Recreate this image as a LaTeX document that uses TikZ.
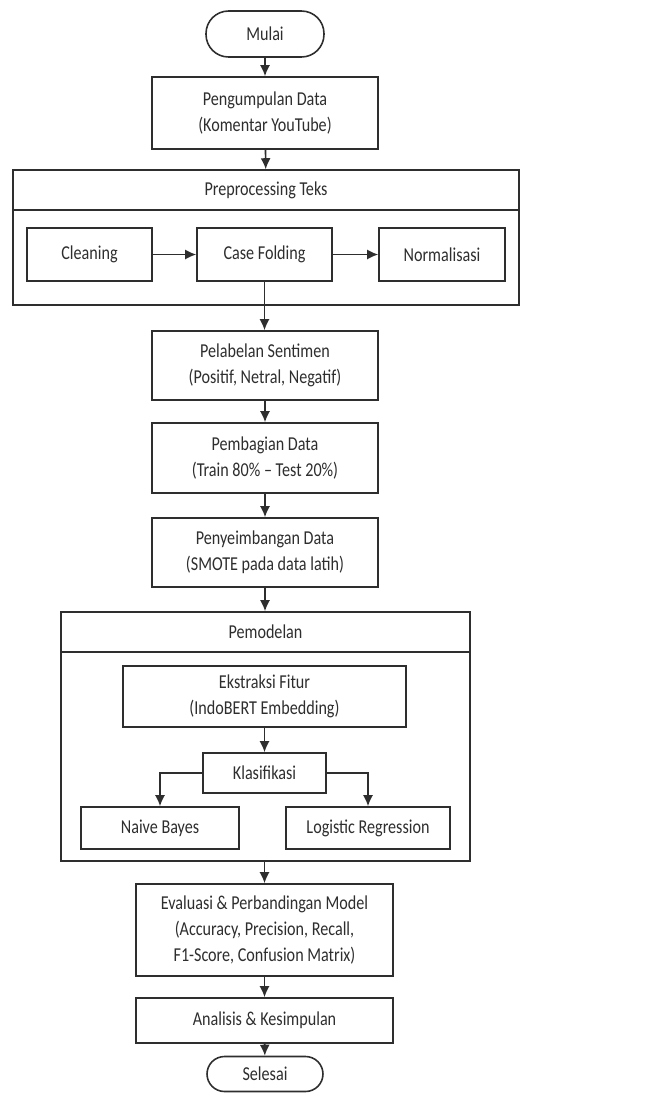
\documentclass[tikz,border=0pt]{standalone}
\usepackage{fontspec}
\setmainfont[FakeStretch=0.82]{Carlito}
\definecolor{FlowInk}{HTML}{2E2E2E}
\usetikzlibrary{arrows.meta,positioning}

\begin{document}
\begin{tikzpicture}[x=0.02cm,y=-0.02cm,
      box/.style={draw=FlowInk,line width=0.9pt,fill=white,text=FlowInk,
                  align=center,inner sep=2pt,
                  font=\fontsize{11.2}{15}\selectfont},
      term/.style={box,rounded corners=0.45cm},
      flow/.style={-{Latex[length=2.2mm,width=2mm]},line width=0.9pt,draw=FlowInk}]
    \useasboundingbox (0,0) rectangle (650,1093);
    % awal
    \node[term,minimum width=2.36cm,minimum height=0.92cm] (mulai) at (265,34) {Mulai};
    \node[box,minimum width=4.52cm,minimum height=1.44cm] (kumpul) at (265,113)
      {Pengumpulan Data\\(Komentar YouTube)};
    % preprocessing
    \node[box,minimum width=10.12cm,minimum height=0.8cm] (preTitle) at (266,190) {Preprocessing Teks};
    \node[box,minimum width=10.12cm,minimum height=1.9cm] (preBody) at (266,257.5) {};
    \node[box,minimum width=2.5cm,minimum height=1.06cm] (clean) at (89.5,254.5) {Cleaning};
    \node[box,minimum width=2.7cm,minimum height=1.06cm] (fold) at (264.5,254.5) {Case Folding};
    \node[box,minimum width=2.52cm,minimum height=1.06cm] (norm) at (442,254.5) {Normalisasi};
    % tahap data
    \node[box,minimum width=4.52cm,minimum height=1.38cm] (label) at (265,365.5)
      {Pelabelan Sentimen\\(Positif, Netral, Negatif)};
    \node[box,minimum width=4.52cm,minimum height=1.4cm] (bagi) at (265,458)
      {Pembagian Data\\(Train 80\% -- Test 20\%)};
    \node[box,minimum width=4.52cm,minimum height=1.38cm] (imbang) at (265,552.5)
      {Penyeimbangan Data\\(SMOTE pada data latih)};
    % pemodelan
    \node[box,minimum width=8.18cm,minimum height=0.8cm] (modTitle) at (265.5,632) {Pemodelan};
    \node[box,minimum width=8.18cm,minimum height=4.18cm] (modBody) at (265.5,756.5) {};
    \node[box,minimum width=5.66cm,minimum height=1.22cm] (fitur) at (264.5,696.5)
      {Ekstraksi Fitur\\(IndoBERT Embedding)};
    \node[box,minimum width=2.46cm,minimum height=0.8cm] (klas) at (264.5,773) {Klasifikasi};
    \node[box,minimum width=3.16cm,minimum height=0.84cm] (nb) at (160,828) {Naive Bayes};
    \node[box,minimum width=3.28cm,minimum height=0.84cm] (lr) at (368,828) {Logistic Regression};
    % akhir
    \node[box,minimum width=5.14cm,minimum height=1.84cm] (eval) at (264.5,930)
      {Evaluasi \& Perbandingan Model\\(Accuracy, Precision, Recall,\\F1-Score, Confusion Matrix)};
    \node[box,minimum width=5.14cm,minimum height=0.9cm] (anal) at (264.5,1020.5)
      {Analisis \& Kesimpulan};
    \node[term,minimum width=2.32cm,minimum height=0.7cm,rounded corners=0.35cm] (selesai) at (265,1074) {Selesai};
    % alur
    \draw[flow] (mulai) -- (kumpul);
    \draw[flow] (kumpul) -- (preTitle);
    \draw[flow] (clean) -- (fold);
    \draw[flow] (fold) -- (norm);
    \draw[flow] (fold.south) -- (fold.south |- label.north);
    \draw[flow] (label) -- (bagi);
    \draw[flow] (bagi) -- (imbang);
    \draw[flow] (imbang.south) -- (imbang.south |- modTitle.north);
    \draw[flow] (fitur) -- (klas);
    \draw[flow] (klas.west) -| (nb.north);
    \draw[flow] (klas.east) -| (lr.north);
    \draw[flow] (modBody.south -| eval.north) -- (eval.north);
    \draw[flow] (eval) -- (anal);
    \draw[flow] (anal) -- (selesai);
  \end{tikzpicture}
\end{document}
